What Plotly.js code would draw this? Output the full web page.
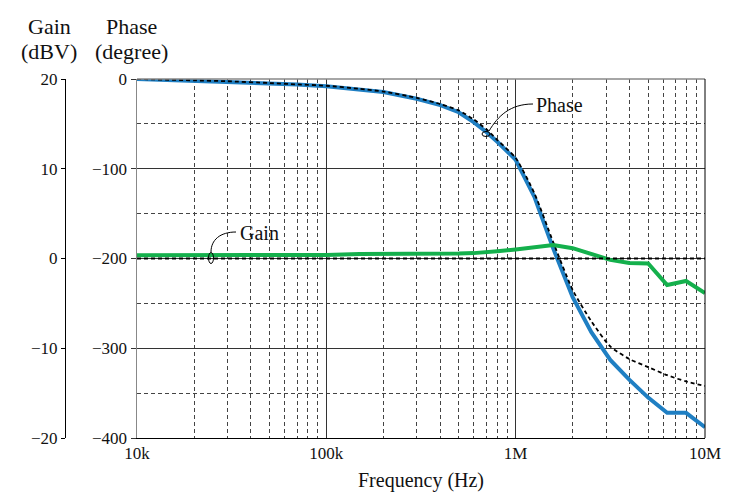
<!DOCTYPE html>
<html>
<head>
<meta charset="utf-8">
<script src="https://cdn.plot.ly/plotly-3.0.1.min.js"></script>
<style>html,body{margin:0;padding:0;background:#fff;}#chart{width:730px;height:496px;}</style>
</head>
<body>
<div id="chart"></div>
<script>
// ---- data ----
var freq = [1e4, 2e4, 3e4, 5e4, 7e4, 1e5, 1.5e5, 2e5, 3e5, 4e5, 5e5, 6e5, 7e5, 8e5,
            1e6, 1.26e6, 1.58e6, 2e6, 2.51e6, 3.16e6, 3.98e6, 5.01e6, 6.31e6, 7.94e6, 1e7];
var phaseMeasured = [0, -2, -3, -5, -6, -8, -11.5, -14.5, -22, -29, -37, -48, -59, -70,
                     -90, -132, -189, -243, -282, -313, -335, -355, -372, -372, -388];
var phaseIdeal = [0, -1.5, -2.5, -4.5, -6, -7.5, -11, -14, -21, -28, -35, -45, -56, -68,
                  -88, -128, -182, -235, -270, -298, -312, -321, -330, -337, -342];
var gainMeasured = [0.35, 0.35, 0.35, 0.35, 0.35, 0.4, 0.5, 0.5, 0.45, 0.5, 0.55, 0.6, 0.65, 0.8,
                    1.0, 1.3, 1.5, 1.15, 0.45, -0.15, -0.5, -0.55, -2.95, -2.5, -3.85];
var gainIdeal = [0, 0, 0, 0, 0, 0, 0, 0, 0, 0, 0, 0, 0, 0,
                 0, 0, 0, 0, 0, 0, 0, 0, 0, 0, 0];

// ---- layout helpers ----
var W = 730, H = 496, ML = 60, MR = 25, MT = 79, MB = 58;
var PW = W - ML - MR, PH = H - MT - MB;
function PX(x) { return (x - ML) / PW; }
function PY(y) { return (H - MB - y) / PH; }

var FONT = '"Liberation Serif", "Times New Roman", serif';
var BLUE = '#1f7fc3', GREEN = '#14b04c';
var DASH = '4px,3px';

var traces = [
  {x: freq, y: gainMeasured, yaxis: 'y2', mode: 'lines', line: {color: GREEN, width: 4}, hoverinfo: 'skip'},
  {x: freq, y: phaseMeasured, yaxis: 'y', mode: 'lines', line: {color: BLUE, width: 4}, hoverinfo: 'skip'},
  {x: freq, y: gainIdeal, yaxis: 'y2', mode: 'lines', line: {color: '#000', width: 2, dash: DASH}, hoverinfo: 'skip'},
  {x: freq, y: phaseIdeal, yaxis: 'y', mode: 'lines', line: {color: '#000', width: 1.8, dash: DASH, shape: 'spline', smoothing: 0.6}, hoverinfo: 'skip'}
];

function bez(pts) {
  var s = 'M ' + PX(pts[0][0]) + ',' + PY(pts[0][1]) + ' C';
  for (var i = 1; i < pts.length; i++) s += ' ' + PX(pts[i][0]) + ',' + PY(pts[i][1]);
  return s;
}

var layout = {
  width: W, height: H,
  margin: {l: ML, r: MR, t: MT, b: MB, pad: 0},
  paper_bgcolor: '#fff', plot_bgcolor: '#fff',
  showlegend: false,
  font: {family: FONT, size: 17, color: '#111'},
  xaxis: {
    type: 'log', range: [4, 7], domain: [PX(137), 1],
    tickmode: 'linear', dtick: 1, tickformat: '~s',
    ticks: '', showline: true, linecolor: '#000', linewidth: 1,
    showgrid: true, gridcolor: '#333', gridwidth: 1,
    zeroline: false,
    minor: {dtick: 'D1', showgrid: true, gridcolor: '#444', gridwidth: 1, griddash: DASH, ticks: ''},
    tickfont: {family: FONT, size: 17, color: '#111'},
    title: {text: 'Frequency (Hz)', font: {family: FONT, size: 20, color: '#111'}, standoff: 10}
  },
  yaxis: {
    range: [-400, 0], tickmode: 'linear', tick0: 0, dtick: 100,
    showline: true, linecolor: '#888', linewidth: 1.5,
    ticks: 'outside', ticklen: 5, tickcolor: '#333', tickwidth: 1,
    showgrid: true, gridcolor: '#333', gridwidth: 1,
    zeroline: false,
    minor: {dtick: 50, showgrid: true, gridcolor: '#444', gridwidth: 1, griddash: DASH, ticks: ''},
    tickfont: {family: FONT, size: 17, color: '#111'}
  },
  yaxis2: {
    overlaying: 'y', anchor: 'free', side: 'left', position: PX(65),
    range: [-20, 20], tickmode: 'linear', tick0: 0, dtick: 10,
    showline: true, linecolor: '#000', linewidth: 1,
    ticks: 'outside', ticklen: 4, tickcolor: '#000',
    showgrid: false, zeroline: false,
    tickfont: {family: FONT, size: 17, color: '#111'}
  },
  shapes: [
    {type: 'line', xref: 'x domain', yref: 'y domain', x0: 0, x1: 1, y0: 1, y1: 1, line: {color: '#888', width: 1.5}},
    {type: 'line', xref: 'x domain', yref: 'y domain', x0: 1, x1: 1, y0: 0, y1: 1, line: {color: '#000', width: 1}},
    {type: 'path', xref: 'paper', yref: 'paper', path: bez([[489, 131], [498, 116], [510, 104], [533, 104]]), line: {color: '#000', width: 1}},
    {type: 'circle', xref: 'paper', yref: 'paper', x0: PX(482), x1: PX(490), y0: PY(136.5), y1: PY(131.5), line: {color: '#000', width: 1}},
    {type: 'path', xref: 'paper', yref: 'paper', path: bez([[211, 252], [211, 240], [220, 232], [236, 232]]), line: {color: '#000', width: 1}},
    {type: 'circle', xref: 'paper', yref: 'paper', x0: PX(208.5), x1: PX(213.5), y0: PY(263.5), y1: PY(252.5), line: {color: '#000', width: 1}}
  ],
  annotations: [
    {text: 'Gain', xref: 'paper', yref: 'paper', x: PX(49), y: PY(26), xanchor: 'center', yanchor: 'middle', showarrow: false, font: {family: FONT, size: 22, color: '#111'}},
    {text: '(dBV)', xref: 'paper', yref: 'paper', x: PX(49), y: PY(51), xanchor: 'center', yanchor: 'middle', showarrow: false, font: {family: FONT, size: 22, color: '#111'}},
    {text: 'Phase', xref: 'paper', yref: 'paper', x: PX(131), y: PY(26), xanchor: 'center', yanchor: 'middle', showarrow: false, font: {family: FONT, size: 22, color: '#111'}},
    {text: '(degree)', xref: 'paper', yref: 'paper', x: PX(131), y: PY(51), xanchor: 'center', yanchor: 'middle', showarrow: false, font: {family: FONT, size: 22, color: '#111'}},
    {text: 'Phase', xref: 'paper', yref: 'paper', x: PX(559), y: PY(105), xanchor: 'center', yanchor: 'middle', showarrow: false, font: {family: FONT, size: 20, color: '#111'}},
    {text: 'Gain', xref: 'paper', yref: 'paper', x: PX(259), y: PY(233), xanchor: 'center', yanchor: 'middle', showarrow: false, font: {family: FONT, size: 20, color: '#111'}}
  ]
};

Plotly.newPlot('chart', traces, layout, {staticPlot: true, displayModeBar: false});
</script>
</body>
</html>
